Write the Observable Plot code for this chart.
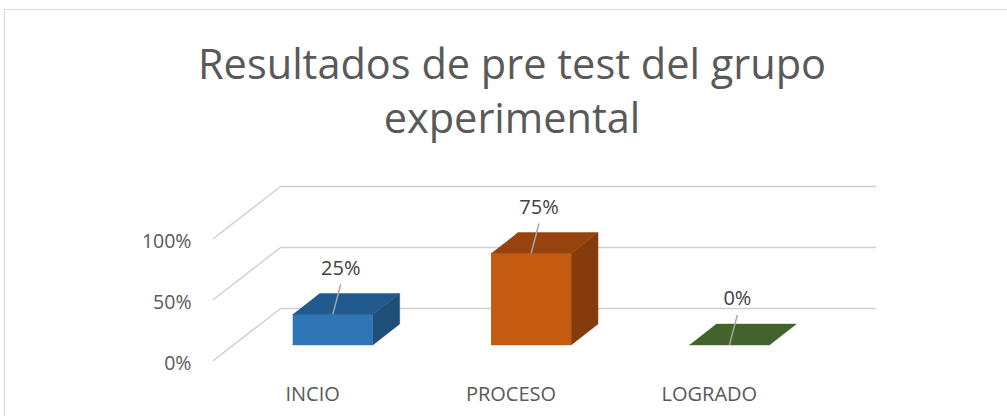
<!DOCTYPE html>
<html><head><meta charset="utf-8">
<script src="https://cdn.jsdelivr.net/npm/d3@7"></script>
<script src="https://cdn.jsdelivr.net/npm/@observablehq/plot@0.6"></script>
<style>
html,body{margin:0;padding:0;background:#fff;overflow:hidden;width:1007px;height:416px;}
#frame{position:absolute;left:4px;top:9px;width:1100px;height:500px;border:1px solid #d9d9d9;box-sizing:border-box;}
#title{position:absolute;left:4px;width:1016px;top:36px;text-align:center;font-family:"Open Sans";font-size:41.5px;line-height:54px;color:#595959;}
#chart{position:absolute;left:0;top:0;}
</style></head><body>
<div id="frame"></div>
<div id="title">Resultados de pre test del grupo<br>experimental</div>
<div id="chart"></div>
<script>
// ---- data ----
const categorias = ["INCIO", "PROCESO", "LOGRADO"];
const valores = [0.25, 0.75, 0];
const etiquetas = ["25%", "75%", "0%"];
const ticksY = [0, 0.5, 1];
const coloresFrente = ["#2E75B6", "#C55A11", "#548235"];
const coloresArriba = ["#215A8E", "#97430D", "#43632A"];
const coloresLado = ["#1F4E79", "#843C0C", "#385723"];

// ---- 3D geometry in data units ----
const DX = 0.338, DY = 0.426;   // full depth offset
const Z0 = 0.3, Z1 = 0.7;       // bar depth range
const W = 0.404;                // bar width (fraction of band)

const grid = [];
ticksY.forEach((t, k) => {
  grid.push({x: 0, y: t, g: k});
  grid.push({x: DX, y: t + DY, g: k});
  grid.push({x: categorias.length + DX, y: t + DY, g: k});
});

const faces = [];
categorias.forEach((c, i) => {
  const v = valores[i];
  const x0 = i + 0.5 - W / 2, x1 = i + 0.5 + W / 2;
  const P = (x, z, y) => ({x: x + z * DX, y: y + z * DY});
  const add = (pts, color, id) => pts.forEach(p => faces.push({...p, id: c + id, color}));
  if (v > 0) {
    add([P(x0, Z0, 0), P(x1, Z0, 0), P(x1, Z0, v), P(x0, Z0, v)], coloresFrente[i], "f");
    add([P(x1, Z0, 0), P(x1, Z1, 0), P(x1, Z1, v), P(x1, Z0, v)], coloresLado[i], "s");
  }
  add([P(x0, Z0, v), P(x1, Z0, v), P(x1, Z1, v), P(x0, Z1, v)], coloresArriba[i], "t");
});

const etiq = categorias.map((c, i) => ({
  x: i + 0.5 + Z0 * DX, y: valores[i] + Z0 * DY, label: etiquetas[i]
}));
const LX = 0.04, LY1 = 0.246, LY2 = 0.377;

const chart = Plot.plot({
  width: 1007, height: 416,
  marginLeft: 213, marginRight: 199, marginTop: 238, marginBottom: 56,
  x: {type: "linear", domain: [0, categorias.length], axis: null},
  y: {domain: [0, 1], axis: null},
  color: {type: "identity"},
  style: {fontFamily: "Open Sans", background: "transparent", overflow: "visible"},
  marks: [
    Plot.line(grid, {x: "x", y: "y", z: "g", stroke: "#d0d0d0", strokeWidth: 1.5}),
    Plot.line(faces, {x: "x", y: "y", z: "id", fill: "color", stroke: "color", strokeWidth: 0.5}),
    Plot.link(etiq, {x1: d => d.x, y1: d => d.y, x2: d => d.x + LX, y2: d => d.y + LY1, stroke: "#a6a6a6", strokeWidth: 1.5}),
    Plot.text(etiq, {x: d => d.x + LX, y: d => d.y + LY2, text: "label", fontSize: 20, fill: "#404040"}),
    Plot.axisY({ticks: ticksY, tickFormat: d3.format(".0%"), tickSize: 0, tickPadding: 22, dy: 3, fontSize: 19.5, fill: "#595959", anchor: "left", label: null}),
    Plot.axisX({ticks: categorias.map((_, i) => i + 0.5), tickFormat: d => categorias[Math.floor(d)], tickSize: 0, tickPadding: 26, fontSize: 20, fill: "#595959", anchor: "bottom", label: null})
  ]
});
document.getElementById("chart").appendChild(chart);
</script>
</body></html>
